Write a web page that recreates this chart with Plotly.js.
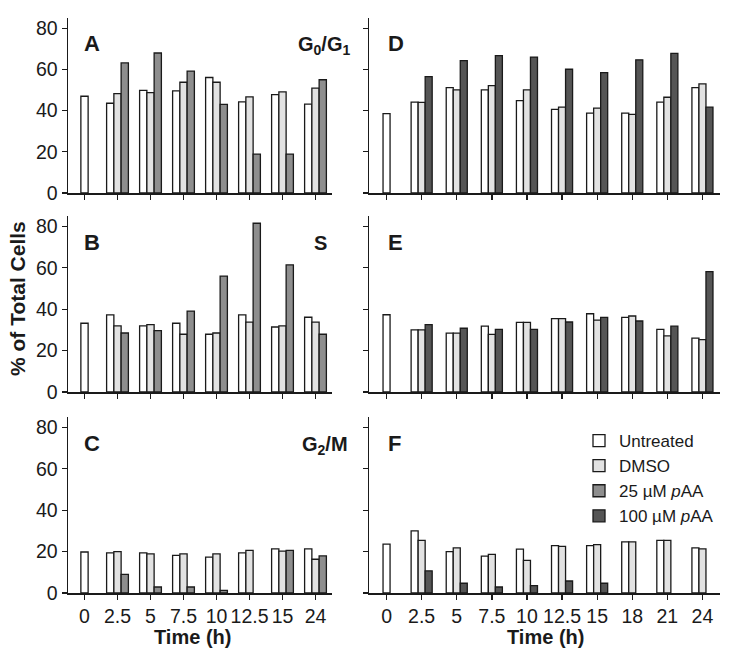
<!DOCTYPE html>
<html>
<head>
<meta charset="utf-8">
<script src="https://cdn.plot.ly/plotly-3.0.1.min.js"></script>
<style>html,body{margin:0;padding:0;background:#fff;}#chart{width:731px;height:659px;}</style>
</head>
<body>
<div id="chart"></div>
<script>
// ---------- data ----------
const timesLeft  = ["0", "2.5", "5", "7.5", "10", "12.5", "15", "24"];
const timesRight = ["0", "2.5", "5", "7.5", "10", "12.5", "15", "18", "21", "24"];

// Panel A (G0/G1), left
const A_untreated = [47, 43.6, 49.8, 49.6, 56.1, 44.3, 47.8, 43.2];
const A_dmso      = [null, 48.3, 48.8, 53.8, 53.8, 46.7, 49.1, 50.9];
const A_paa25     = [null, 63.2, 68, 59.2, 43, 18.9, 18.9, 55];
// Panel B (S), left
const B_untreated = [33.2, 37.2, 31.9, 33.2, 27.9, 37.2, 31.4, 36.1];
const B_dmso      = [null, 31.9, 32.5, 27.9, 28.5, 33.7, 31.9, 33.7];
const B_paa25     = [null, 28.5, 29.6, 39.1, 56, 81.5, 61.4, 27.9];
// Panel C (G2/M), left
const C_untreated = [19.8, 19.4, 19.4, 18.2, 17.3, 19.4, 21.3, 21.3];
const C_dmso      = [null, 20, 18.9, 18.9, 18.9, 20.6, 20.2, 16.3];
const C_paa25     = [null, 9, 2.9, 2.9, 1.3, null, 20.6, 17.9];
// Panel D (G0/G1), right
const D_untreated = [38.6, 44.1, 51.2, 50.1, 44.9, 40.6, 38.8, 38.8, 44.1, 51.2];
const D_dmso      = [null, 44, 50.1, 52.2, 50.1, 41.7, 41.2, 38.2, 46.5, 53];
const D_paa100    = [null, 56.5, 64.3, 66.7, 66, 60.1, 58.5, 64.7, 67.8, 41.7];
// Panel E (S), right
const E_untreated = [37.3, 30, 28.4, 31.8, 33.6, 35.4, 37.8, 36, 30.2, 26];
const E_dmso      = [null, 30, 28.4, 27.8, 33.6, 35.4, 34.7, 36.7, 27.1, 25.3];
const E_paa100    = [null, 32.5, 30.8, 30.2, 30.2, 33.8, 36, 34.3, 31.8, 58.1];
// Panel F (G2/M), right
const F_untreated = [23.6, 30, 20, 17.8, 21.2, 22.9, 22.9, 24.7, 25.4, 21.8];
const F_dmso      = [null, 25.4, 21.8, 18.7, 15.8, 22.5, 23.4, 24.7, 25.4, 21.3];
const F_paa100    = [null, 10.7, 4.7, 2.9, 3.6, 5.8, 4.7, null, null, null];

const yTicks = [0, 20, 40, 60, 80];
const seriesNames = ["Untreated", "DMSO", "25 \u00b5M <i>p</i>AA", "100 \u00b5M <i>p</i>AA"];

// ---------- styling ----------
const FONT = "Liberation Sans, Arial, Helvetica, sans-serif";
const INK = "#1a1a1a";
const colors = ["#ffffff", "#e2e2e2", "#8e8e8e", "#555555"];
const W = 731, H = 659;

function px2x(p){ return p / W; }
function px2y(p){ return 1 - p / H; }

const traces = [];
function addPanel(xa, ya, cats, u, d, t, tIdx, w, legend) {
  const offU = d.map(v => (v === null ? -w/2 : -1.5*w));
  const line = {color: INK, width: 1.3};
  const sets = [
    {y: u, off: offU, c: 0},
    {y: d, off: -w/2, c: 1},
    {y: t, off: w/2, c: tIdx}
  ];
  sets.forEach(s => {
    traces.push({
      type: "bar", x: cats, y: s.y, xaxis: xa, yaxis: ya,
      name: seriesNames[s.c], width: w, offset: s.off,
      marker: {color: colors[s.c], line: line},
      showlegend: legend.includes(s.c), legendrank: s.c + 1,
      hoverinfo: "x+y+name"
    });
  });
}

addPanel("x", "y", timesLeft, A_untreated, A_dmso, A_paa25, 2, 0.22, [2]);
addPanel("x2", "y2", timesLeft, B_untreated, B_dmso, B_paa25, 2, 0.22, []);
addPanel("x3", "y3", timesLeft, C_untreated, C_dmso, C_paa25, 2, 0.22, []);
addPanel("x4", "y4", timesRight, D_untreated, D_dmso, D_paa100, 3, 0.2, [0, 1, 3]);
addPanel("x5", "y5", timesRight, E_untreated, E_dmso, E_paa100, 3, 0.2, []);
addPanel("x6", "y6", timesRight, F_untreated, F_dmso, F_paa100, 3, 0.2, []);

const leftDom = [px2x(68), px2x(332)];
const rightDom = [px2x(369), px2x(720)];
const rows = [[px2y(193), px2y(18)], [px2y(392), px2y(216)], [px2y(593), px2y(417)]];

function xaxis(dom, anchor, labels, n) {
  return {
    domain: dom, anchor: anchor, type: "category",
    range: [-0.5, n - 0.5], showgrid: false, zeroline: false,
    showline: true, linecolor: INK, linewidth: 1.5,
    ticks: "outside", ticklen: 5, tickwidth: 1.3, tickcolor: INK,
    showticklabels: labels, tickfont: {family: FONT, size: 19.5, color: INK},
    fixedrange: true
  };
}
function yaxis(dom, anchor, labels) {
  return {
    domain: dom, anchor: anchor, range: [0, 85],
    showgrid: false, zeroline: false,
    showline: true, linecolor: INK, linewidth: 1.5,
    ticks: "outside", ticklen: 5, tickwidth: 1.3, tickcolor: INK,
    tickmode: "array", tickvals: yTicks,
    showticklabels: labels, tickfont: {family: FONT, size: 19.5, color: INK},
    fixedrange: true
  };
}

const layout = {
  width: W, height: H,
  margin: {l: 0, r: 0, t: 0, b: 0},
  paper_bgcolor: "#fff", plot_bgcolor: "#fff",
  barmode: "overlay",
  font: {family: FONT, color: INK},
  showlegend: true,
  legend: {
    x: px2x(579), y: px2y(423), xanchor: "left", yanchor: "top",
    font: {family: FONT, size: 17, color: INK},
    bgcolor: "rgba(0,0,0,0)", tracegroupgap: 0, traceorder: "normal"
  },
  xaxis:  xaxis(leftDom, "y", false, timesLeft.length),
  xaxis2: xaxis(leftDom, "y2", false, timesLeft.length),
  xaxis3: xaxis(leftDom, "y3", true, timesLeft.length),
  xaxis4: xaxis(rightDom, "y4", false, timesRight.length),
  xaxis5: xaxis(rightDom, "y5", false, timesRight.length),
  xaxis6: xaxis(rightDom, "y6", true, timesRight.length),
  yaxis:  yaxis(rows[0], "x", true),
  yaxis2: yaxis(rows[1], "x2", true),
  yaxis3: yaxis(rows[2], "x3", true),
  yaxis4: yaxis(rows[0], "x4", false),
  yaxis5: yaxis(rows[1], "x5", false),
  yaxis6: yaxis(rows[2], "x6", false),
  annotations: []
};

function ann(text, xp, yp, xanchor, size, extra) {
  layout.annotations.push(Object.assign({
    text: text, xref: "paper", yref: "paper",
    x: px2x(xp), y: px2y(yp), xanchor: xanchor, yanchor: "middle",
    showarrow: false, font: {family: FONT, size: size, color: INK}
  }, extra || {}));
}
// panel letters
ann("<b>A</b>", 82, 43, "left", 22);
ann("<b>B</b>", 82, 242, "left", 22);
ann("<b>C</b>", 82, 443, "left", 22);
ann("<b>D</b>", 386, 43, "left", 22);
ann("<b>E</b>", 386, 242, "left", 22);
ann("<b>F</b>", 386, 443, "left", 22);
// phase labels
ann("<b>G<sub>0</sub>/G<sub>1</sub></b>", 352, 45, "right", 20);
ann("<b>S</b>", 329, 243, "right", 20);
ann("<b>G<sub>2</sub>/M</b>", 350, 445, "right", 20);
// axis titles
ann("<b>Time (h)</b>", 192, 637, "center", 20);
ann("<b>Time (h)</b>", 545, 637, "center", 20);
ann("<b>% of Total Cells</b>", 18, 299, "center", 21, {textangle: -90});

Plotly.newPlot("chart", traces, layout, {displayModeBar: false, staticPlot: true});
</script>
</body>
</html>
